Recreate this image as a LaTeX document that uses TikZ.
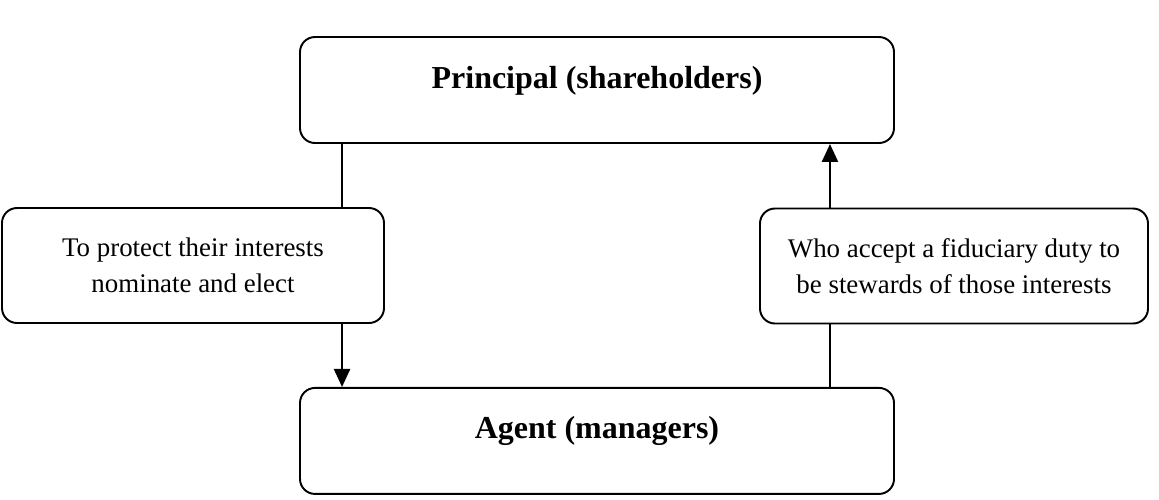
\documentclass[tikz,border=0pt]{standalone}
\usepackage{fontspec}
\setmainfont{Liberation Serif}
\usepackage{tikz}
\usetikzlibrary{arrows.meta, positioning, calc}

\begin{document}
\begin{tikzpicture}[
    party/.style={draw, line width=1.1pt, rounded corners=0.3cm, minimum width=11.88cm, inner sep=0pt, text height=1.02cm, text depth=1.1cm, font=\fontsize{18.2}{22}\selectfont\bfseries},
    role/.style={draw, line width=1.1pt, rounded corners=0.3cm, minimum height=2.3cm, align=center, font=\fontsize{15.3}{20.5}\selectfont},
    arrow/.style={-{Triangle[length=3.6mm, width=3.2mm]}, line width=1.3pt},
    node distance=4.86cm
]
\useasboundingbox (0,0) rectangle (23.18,-9.98);

\node[party] (principal) at (11.94,-1.8) {Principal (shareholders)};
\node[party, below=of principal] (agent) {Agent (managers)};

\node[role, minimum width=7.64cm] (lft) at (3.86,-5.31) {To protect their interests\\nominate and elect};
\node[role, minimum width=7.76cm] (rgt) at (19.08,-5.32) {Who accept a fiduciary duty to\\be stewards of those interests};

% left side: principal down to agent
\draw[line width=1.1pt] ([xshift=0.86cm]principal.south west) coordinate (p1) -- (p1 |- lft.north);
\draw[arrow] (lft.south -| p1) -- (p1 |- agent.north);

% right side: agent up to principal
\draw[line width=1.1pt] ([xshift=-1.3cm]agent.north east) coordinate (a1) -- (a1 |- rgt.south);
\draw[arrow] (rgt.north -| a1) -- (a1 |- principal.south);

\end{tikzpicture}
\end{document}
